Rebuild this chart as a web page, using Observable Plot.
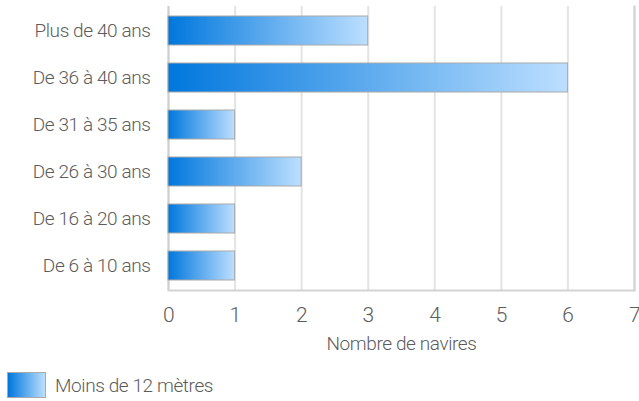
<!DOCTYPE html>
<html>
<head>
<meta charset="utf-8">
<script src="https://cdn.jsdelivr.net/npm/d3@7"></script>
<script src="https://cdn.jsdelivr.net/npm/@observablehq/plot@0.6"></script>
<style>
  html, body { margin: 0; padding: 0; background: #fff; }
  body { width: 639px; height: 401px; overflow: hidden; font-family: Roboto, sans-serif; font-weight: 300; }
  svg text { letter-spacing: -0.4px; }
  #legend { display: flex; align-items: center; margin: 6px 0 0 7px; color: #5c5c5c; font-size: 19px; letter-spacing: -0.4px; }
  #legend .sw { width: 37px; height: 24px; border: 1px solid #aaa; background: linear-gradient(to right, #0077dd, #bcdfff); margin-right: 9px; }
</style>
</head>
<body>
<div id="chart"></div>
<script>
const categories = ["Plus de 40 ans", "De 36 à 40 ans", "De 31 à 35 ans", "De 26 à 30 ans", "De 16 à 20 ans", "De 6 à 10 ans"];
const values = [3, 6, 1, 2, 1, 1];
const xTicks = [0, 1, 2, 3, 4, 5, 6, 7];
const xLabel = "Nombre de navires";
const seriesName = "Moins de 12 mètres";

const data = categories.map((c, i) => ({category: c, value: values[i]}));

const defs = () => {
  const ns = "http://www.w3.org/2000/svg";
  const d = document.createElementNS(ns, "defs");
  const g = document.createElementNS(ns, "linearGradient");
  g.setAttribute("id", "barGrad");
  g.setAttribute("x1", "0"); g.setAttribute("x2", "1");
  g.setAttribute("y1", "0"); g.setAttribute("y2", "0");
  [["0%", "#0077dd"], ["100%", "#bcdfff"]].forEach(([o, c]) => {
    const s = document.createElementNS(ns, "stop");
    s.setAttribute("offset", o); s.setAttribute("stop-color", c);
    g.appendChild(s);
  });
  d.appendChild(g);
  return d;
};

const chart = Plot.plot({
  width: 639,
  height: 366,
  marginLeft: 168,
  marginRight: 5,
  marginTop: 6,
  marginBottom: 76,
  style: {fontFamily: "Roboto, sans-serif", fontWeight: 300, fontSize: "19px", color: "#5c5c5c", background: "#fff"},
  x: {domain: [0, 7]},
  y: {domain: categories, paddingInner: 0.38, paddingOuter: 0.2},
  marks: [
    defs,
    Plot.gridX(xTicks, {stroke: "#e3e3e3", strokeWidth: 2, strokeOpacity: 1}),
    Plot.ruleX([0], {stroke: "#cfcfcf", strokeWidth: 2}),
    Plot.frame({anchor: "bottom", stroke: "#d3d3d3", strokeWidth: 2}),
    Plot.frame({anchor: "right", stroke: "#d3d3d3", strokeWidth: 2}),
    Plot.barX(data, {x: "value", y: "category", fill: "url(#barGrad)", stroke: "#a9a9a9", strokeWidth: 1}),
    Plot.axisX(xTicks, {tickSize: 0, tickPadding: 17, fontSize: 21, label: null, tickFormat: d => String(d)}),
    Plot.axisY({tickSize: 0, tickPadding: 18, fontSize: 19, label: null}),
    Plot.text([xLabel], {frameAnchor: "bottom", dy: 59, fontSize: 19, fill: "#5c5c5c"})
  ]
});
document.getElementById("chart").appendChild(chart);

const legend = document.createElement("div");
legend.id = "legend";
legend.innerHTML = `<span class="sw"></span><span></span>`;
legend.lastChild.textContent = seriesName;
document.body.appendChild(legend);
</script>
</body>
</html>
